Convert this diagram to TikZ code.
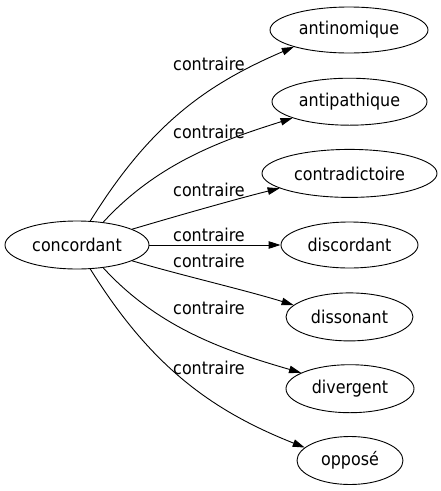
\documentclass[tikz,border=0pt]{standalone}
\usepackage{fontspec}
\setmainfont{DejaVu Sans Condensed}
\usetikzlibrary{shapes.geometric,arrows.meta}
\begin{document}
\begin{tikzpicture}[x=1pt,y=-1pt,
  word/.style={draw,ellipse,inner sep=0pt,line width=0.9pt,font=\fontsize{17.7}{20}\selectfont},
  lab/.style={inner sep=0pt,font=\fontsize{17.7}{20}\selectfont},
  rel/.style={draw,line width=0.9pt,-{Triangle[length=12pt,width=7.5pt]}}]
\useasboundingbox (0,0) rectangle (441,491);
\node[word,minimum width=144pt,minimum height=48pt] (c) at (77,245) {concordant};
\node[word,minimum width=158pt,minimum height=46pt] (t1) at (349,30) {antinomique};
\node[word,minimum width=155pt,minimum height=47pt] (t2) at (349.5,101.7) {antipathique};
\node[word,minimum width=175pt,minimum height=48pt] (t3) at (349.5,173.4) {contradictoire};
\node[word,minimum width=137pt,minimum height=46pt] (t4) at (349.5,245) {discordant};
\node[word,minimum width=127pt,minimum height=48pt] (t5) at (349.5,316.9) {dissonant};
\node[word,minimum width=128pt,minimum height=48pt] (t6) at (350,388.7) {divergent};
\node[word,minimum width=106pt,minimum height=48pt] (t7) at (350,460.5) {opposé};
\draw[rel] (c.61.6) .. controls (150,125) and (205,85) .. (t1.197.5);
\draw[rel] (c.41.5) .. controls (160,160) and (230,138) .. (t2.196.6);
\draw[rel] (c.16.2) .. controls (180,215) and (240,198) .. (t3.192.4);
\draw[rel] (c.0) -- (t4.180);
\draw[rel] (c.-16.2) .. controls (180,275) and (245,290) .. (t5.168.1);
\draw[rel] (c.-41.5) .. controls (160,330) and (230,352) .. (t6.162.6);
\draw[rel] (c.-61.6) .. controls (150,365) and (210,410) .. (t7.164);
\node[lab] (l1) at (209,63.5) {contraire};
\node[lab] (l2) at (209,131.5) {contraire};
\node[lab] (l3) at (209,190) {contraire};
\node[lab] (l4) at (209,234.5) {contraire};
\node[lab] (l5) at (209,261) {contraire};
\node[lab] (l6) at (209,307.5) {contraire};
\node[lab] (l7) at (209,368) {contraire};
\end{tikzpicture}
\end{document}
